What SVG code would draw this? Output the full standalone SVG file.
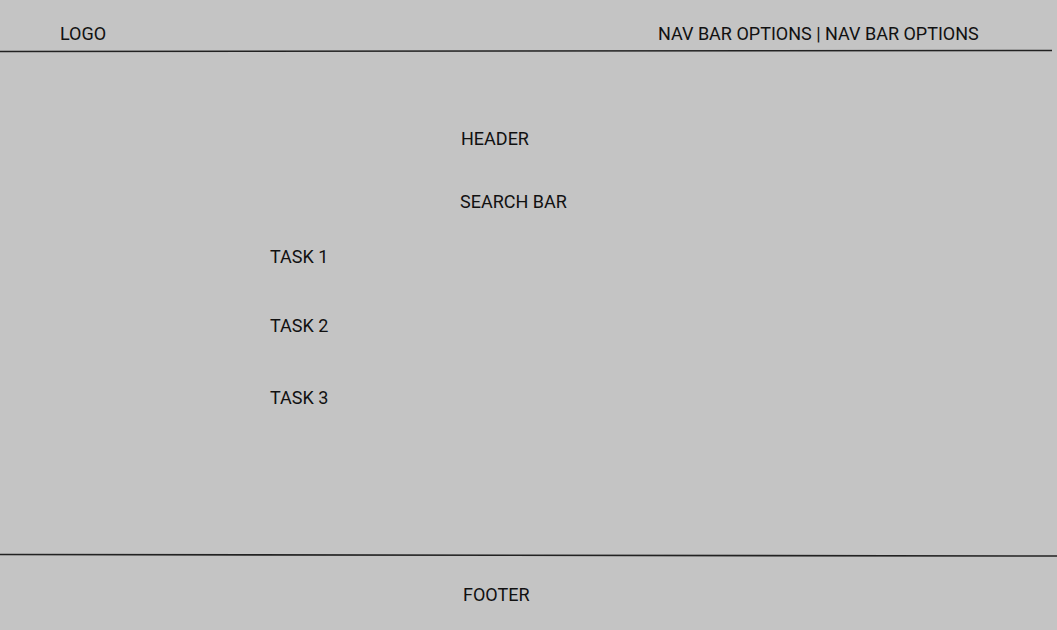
<svg xmlns="http://www.w3.org/2000/svg" width="1057" height="630" viewBox="0 0 1057 630">
<style>
.t{font-family:Roboto,"Liberation Sans",sans-serif;font-size:18px;fill:#111}
.l{stroke:#222;stroke-width:1.6;fill:none}
</style>
<rect width="1057" height="630" fill="#c4c4c4"/>
<g id="nav">
<line class="l" x1="0" y1="51.5" x2="1052" y2="50.5"/>
<text id="logo" class="t" x="60" y="40">LOGO</text>
<text id="nav-options" class="t" x="658" y="40">NAV BAR OPTIONS | NAV BAR OPTIONS</text>
</g>
<g id="header"><text class="t" x="461" y="145">HEADER</text></g>
<g id="search"><text class="t" x="460" y="208">SEARCH BAR</text></g>
<g id="task1"><text class="t" x="270" y="263">TASK 1</text></g>
<g id="task2"><text class="t" x="270" y="332">TASK 2</text></g>
<g id="task3"><text class="t" x="270" y="404">TASK 3</text></g>
<g id="footer">
<line class="l" x1="0" y1="554.5" x2="1057" y2="556"/>
<text class="t" x="463" y="601">FOOTER</text>
</g>
</svg>
